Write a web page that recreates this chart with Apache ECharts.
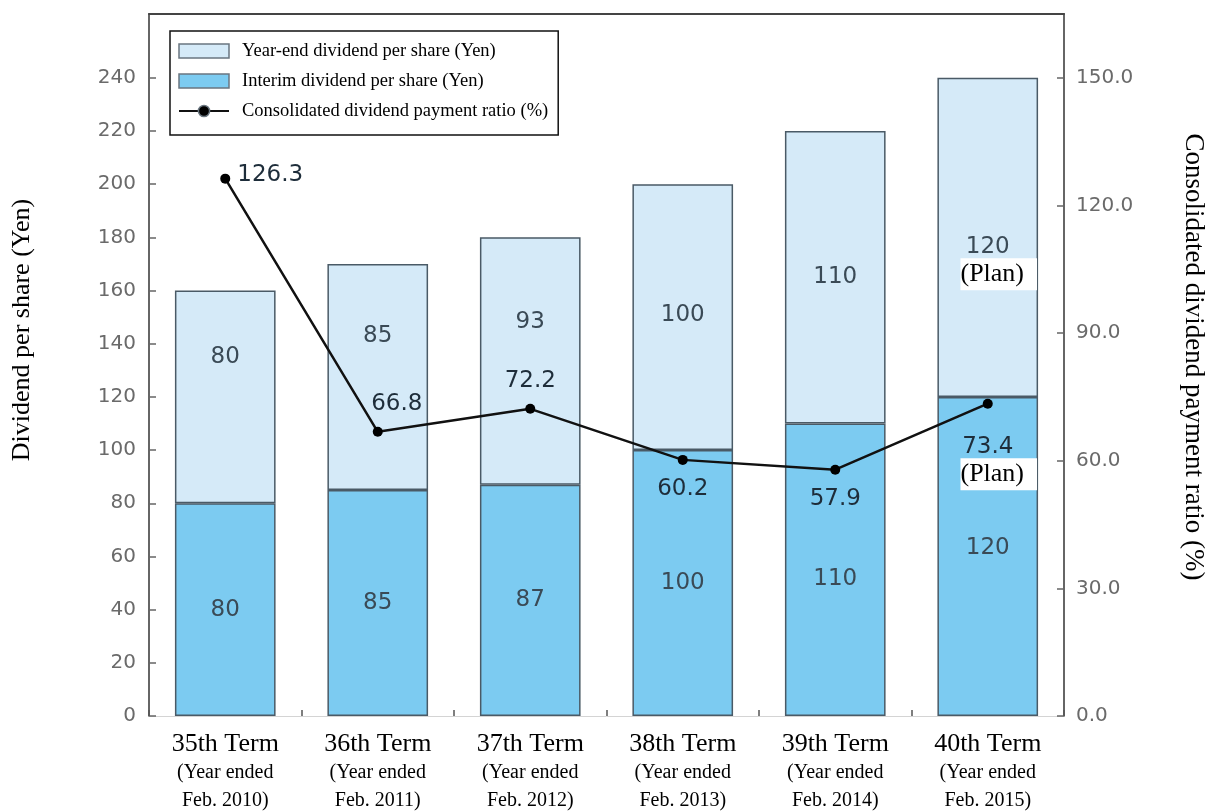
<!DOCTYPE html>
<html>
<head>
<meta charset="utf-8">
<script src="https://cdn.jsdelivr.net/npm/echarts@6/dist/echarts.min.js"></script>
<style>
  html, body { margin: 0; padding: 0; background: #fff; }
  #chart { width: 1210px; height: 811px; }
</style>
</head>
<body>
<div id="chart"></div>
<script>
// Dividend data by fiscal term
const terms = ['35th Term', '36th Term', '37th Term', '38th Term', '39th Term', '40th Term'];
const periods = ['Feb. 2010)', 'Feb. 2011)', 'Feb. 2012)', 'Feb. 2013)', 'Feb. 2014)', 'Feb. 2015)'];
const interimDividend = [80, 85, 87, 100, 110, 120];
const yearEndDividend = [80, 85, 93, 100, 110, 120];
const payoutRatio = [126.3, 66.8, 72.2, 60.2, 57.9, 73.4];
const planned = [false, false, false, false, false, true];
const leftTicks = [0, 20, 40, 60, 80, 100, 120, 140, 160, 180, 200, 220, 240];
const rightTicks = [0, 30, 60, 90, 120, 150];

// Label nudges (pixels) so the values don't collide with the ratio line
const yearEndLabelShift = [-40, -41, -39, -2, 0, 23];
const interimLabelShift = [0, 0, 0, 0, 9, -8];
const ratioLabelPlace = [
  { position: 'right', offset: [2, -4] },
  { position: 'top', offset: [19, -6] },
  { position: 'top', offset: [0, -6] },
  { position: 'bottom', offset: [0, 8] },
  { position: 'bottom', offset: [0, 8] },
  { position: 'bottom', offset: [0, 19] }
];

const NUM_FONT = '"DejaVu Sans", sans-serif';
const SERIF = '"Liberation Serif", "Times New Roman", serif';

const planRich = {
  v: { fontFamily: NUM_FONT, fontSize: 23, color: '#3a4a56', lineHeight: 28 },
  lv: { fontFamily: NUM_FONT, fontSize: 23, color: '#1e2d3a', lineHeight: 28 },
  sp: { width: 22, height: 10 },
  p: { fontFamily: SERIF, fontSize: 26, color: '#000', backgroundColor: '#fff', padding: [3, 13, 3, 0], lineHeight: 27 }
};

const chart = echarts.init(document.getElementById('chart'), null, { renderer: 'canvas' });

chart.setOption({
  animation: false,
  backgroundColor: '#fff',
  grid: { left: 149, right: 146, top: 14, bottom: 93, containLabel: false },
  legend: {
    orient: 'vertical',
    left: 170,
    top: 31,
    data: [
      { name: 'Year-end dividend per share (Yen)', icon: 'rect' },
      { name: 'Interim dividend per share (Yen)', icon: 'rect' },
      { name: 'Consolidated dividend payment ratio (%)' }
    ],
    itemWidth: 50,
    itemHeight: 14,
    itemGap: 10,
    padding: [10, 10, 14, 8],
    borderColor: '#111',
    borderWidth: 1.5,
    backgroundColor: '#fff',
    itemStyle: { borderColor: '#6a7680', borderWidth: 1.5 },
    textStyle: { fontFamily: SERIF, fontSize: 18.5, lineHeight: 20, color: '#000', padding: [0, 0, 0, 8] }
  },
  xAxis: [
    {
      type: 'category',
      data: terms,
      position: 'bottom',
      axisLine: { show: true, onZero: false, lineStyle: { color: '#d4d4d4', width: 1 } },
      axisTick: { show: true, inside: true, length: 6, alignWithLabel: false, lineStyle: { color: '#555', width: 1.5 } },
      axisLabel: {
        margin: 13,
        interval: 0,
        formatter: (v, i) => '{t|' + v + '}\n{s|(Year ended}\n{s|' + periods[i] + '}',
        rich: {
          t: { fontFamily: SERIF, fontSize: 26, color: '#000', lineHeight: 30 },
          s: { fontFamily: SERIF, fontSize: 20, color: '#000', lineHeight: 28 }
        }
      }
    },
    {
      type: 'category',
      data: terms,
      position: 'top',
      axisLine: { show: true, onZero: false, lineStyle: { color: '#444', width: 2 } },
      axisTick: { show: false },
      axisLabel: { show: false }
    }
  ],
  yAxis: [
    {
      type: 'value',
      min: 0,
      max: 264,
      interval: 20,
      position: 'left',
      splitLine: { show: false },
      axisLine: { show: true, lineStyle: { color: '#666', width: 2 } },
      axisTick: { show: true, inside: true, length: 7, customValues: leftTicks, lineStyle: { color: '#666', width: 1.5 } },
      axisLabel: { customValues: leftTicks, margin: 13, fontFamily: NUM_FONT, fontSize: 20, color: '#6a6a6a' }
    },
    {
      type: 'value',
      min: 0,
      max: 165,
      interval: 30,
      position: 'right',
      splitLine: { show: false },
      axisLine: { show: true, lineStyle: { color: '#666', width: 2 } },
      axisTick: { show: true, inside: true, length: 7, customValues: rightTicks, lineStyle: { color: '#666', width: 1.5 } },
      axisLabel: { customValues: rightTicks, margin: 12, fontFamily: NUM_FONT, fontSize: 20, color: '#6a6a6a', formatter: v => v.toFixed(1) }
    }
  ],
  series: [
    {
      name: 'Interim dividend per share (Yen)',
      type: 'bar',
      stack: 'dividend',
      barWidth: '66%',
      itemStyle: { color: '#7ccbf1', borderColor: '#4a5a66', borderWidth: 1.5 },
      data: interimDividend.map((v, i) => ({
        value: v,
        label: { offset: [0, interimLabelShift[i]] }
      })),
      label: {
        show: true,
        position: 'inside',
        fontFamily: NUM_FONT,
        fontSize: 23,
        color: '#3a4a56'
      },
      z: 2
    },
    {
      name: 'Year-end dividend per share (Yen)',
      type: 'bar',
      stack: 'dividend',
      barWidth: '66%',
      itemStyle: { color: '#d5eaf8', borderColor: '#4a5a66', borderWidth: 1.5 },
      data: yearEndDividend.map((v, i) => ({
        value: v,
        label: { offset: [0, yearEndLabelShift[i]] }
      })),
      label: {
        show: true,
        position: 'inside',
        fontFamily: NUM_FONT,
        fontSize: 23,
        color: '#3a4a56',
        rich: planRich,
        formatter: p => planned[p.dataIndex] ? '{v|' + p.value + '}\n{sp|}{p|(Plan)}' : String(p.value)
      },
      z: 2
    },
    {
      name: 'Consolidated dividend payment ratio (%)',
      type: 'line',
      yAxisIndex: 1,
      symbol: 'circle',
      symbolSize: 10,
      itemStyle: { color: '#000' },
      lineStyle: { color: '#111', width: 2.5 },
      data: payoutRatio.map((v, i) => ({
        value: v,
        label: ratioLabelPlace[i]
      })),
      label: {
        show: true,
        fontFamily: NUM_FONT,
        fontSize: 23,
        color: '#1e2d3a',
        rich: planRich,
        formatter: p => planned[p.dataIndex] ? '{lv|' + p.value.toFixed(1) + '}\n{sp|}{p|(Plan)}' : p.value.toFixed(1)
      },
      z: 5
    }
  ],
  graphic: [
    {
      type: 'text',
      x: 22,
      y: 330,
      rotation: Math.PI / 2,
      style: {
        text: 'Dividend per share (Yen)',
        font: '26px "Liberation Serif", "Times New Roman", serif',
        fill: '#000',
        align: 'center',
        verticalAlign: 'middle'
      }
    },
    {
      type: 'text',
      x: 1193,
      y: 357,
      rotation: -Math.PI / 2,
      style: {
        text: 'Consolidated dividend payment ratio (%)',
        font: '27px "Liberation Serif", "Times New Roman", serif',
        fill: '#000',
        align: 'center',
        verticalAlign: 'middle'
      }
    }
  ]
});
</script>
</body>
</html>
